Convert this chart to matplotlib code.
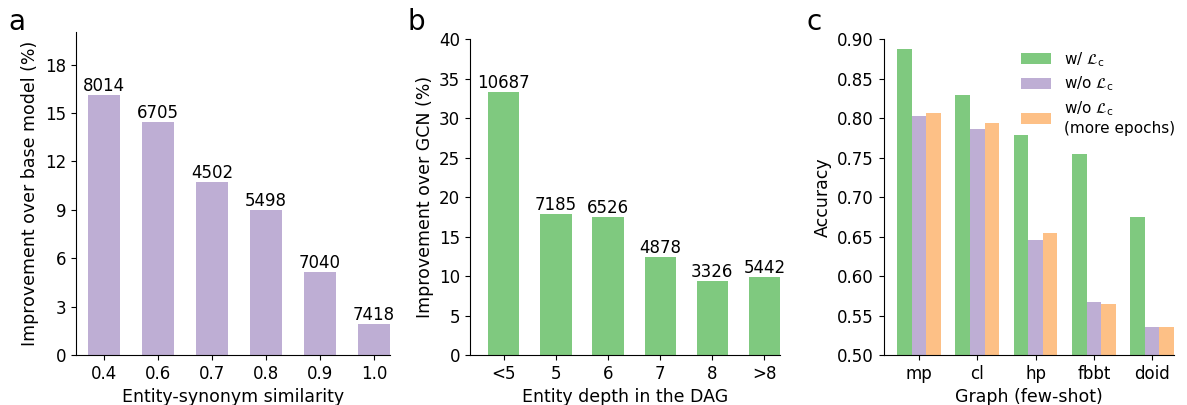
import numpy as np
import matplotlib
matplotlib.use("Agg")
import matplotlib.pyplot as plt
from matplotlib.ticker import FormatStrFormatter

GREEN = "#7fc97f"
PURPLE = "#beaed4"
ORANGE = "#fdc086"

# panel a
sim_labels = ["0.4", "0.6", "0.7", "0.8", "0.9", "1.0"]
sim_improve = [16.14, 14.43, 10.71, 8.98, 5.12, 1.92]
sim_counts = [8014, 6705, 4502, 5498, 7040, 7418]

# panel b
depth_labels = ["<5", "5", "6", "7", "8", ">8"]
depth_improve = [33.3, 17.87, 17.49, 12.42, 9.38, 9.89]
depth_counts = [10687, 7185, 6526, 4878, 3326, 5442]

# panel c
graphs = ["mp", "cl", "hp", "fbbt", "doid"]
acc_with = [0.888, 0.829, 0.779, 0.755, 0.675]
acc_without = [0.803, 0.786, 0.646, 0.567, 0.536]
acc_without_more = [0.806, 0.794, 0.655, 0.565, 0.536]

plt.rcParams["font.size"] = 12
plt.rcParams["axes.labelsize"] = 12.5
plt.rcParams["mathtext.fontset"] = "dejavusans"

fig = plt.figure(figsize=(11.87, 4.05), dpi=100)
W, H = 1187, 405


def add_ax(left, right, top, bottom=355):
    return fig.add_axes([left / W, 1 - bottom / H, (right - left) / W, (bottom - top) / H])


def style(ax):
    ax.spines["top"].set_visible(False)
    ax.spines["right"].set_visible(False)


# a
ax1 = add_ax(76, 390, 32.3)
x = np.arange(len(sim_labels))
bars = ax1.bar(x, sim_improve, width=0.6, color=PURPLE)
ax1.bar_label(bars, labels=[str(c) for c in sim_counts], padding=0, fontsize=12)
ax1.set_xticks(x)
ax1.set_xticklabels(sim_labels)
ax1.set_yticks(np.arange(0, 19, 3))
ax1.set_ylim(0, 20)
ax1.set_xlim(-0.52, 5.3)
ax1.set_xlabel("Entity-synonym similarity")
ax1.set_ylabel("Improvement over base model (%)")
style(ax1)

# b
ax2 = add_ax(470, 780, 39.3)
x = np.arange(len(depth_labels))
bars = ax2.bar(x, depth_improve, width=0.6, color=GREEN)
ax2.bar_label(bars, labels=[str(c) for c in depth_counts], padding=0, fontsize=12)
ax2.set_xticks(x)
ax2.set_xticklabels(depth_labels)
ax2.set_yticks(np.arange(0, 41, 5))
ax2.set_ylim(0, 40)
ax2.set_xlim(-0.65, 5.3)
ax2.set_xlabel("Entity depth in the DAG")
ax2.set_ylabel("Improvement over GCN (%)")
style(ax2)

# c
ax3 = add_ax(883.7, 1174, 39.3)
x = np.arange(len(graphs))
w = 0.25
ax3.bar(x - w, acc_with, width=w, color=GREEN, label=r"w/ $\mathcal{L}_\mathrm{c}$")
ax3.bar(x, acc_without, width=w, color=PURPLE, label=r"w/o $\mathcal{L}_\mathrm{c}$")
ax3.bar(x + w, acc_without_more, width=w, color=ORANGE,
        label="w/o $\\mathcal{L}_\\mathrm{c}$\n(more epochs)")
ax3.set_xticks(x)
ax3.set_xticklabels(graphs)
ax3.set_ylim(0.5, 0.9)
ax3.set_yticks(np.arange(0.5, 0.901, 0.05))
ax3.yaxis.set_major_formatter(FormatStrFormatter("%.2f"))
ax3.set_xlim(-0.607, 4.375)
ax3.set_xlabel("Graph (few-shot)")
ax3.set_ylabel("Accuracy")
ax3.legend(frameon=False, fontsize=11, loc="upper right", labelspacing=0.4,
           bbox_to_anchor=(1.05, 1.01))
style(ax3)

fig.text(8 / W, 1 - 30 / H, "a", fontsize=20, va="baseline")
fig.text(408 / W, 1 - 30 / H, "b", fontsize=20, va="baseline")
fig.text(807 / W, 1 - 30 / H, "c", fontsize=20, va="baseline")

fig.savefig("out.png", dpi=100)
